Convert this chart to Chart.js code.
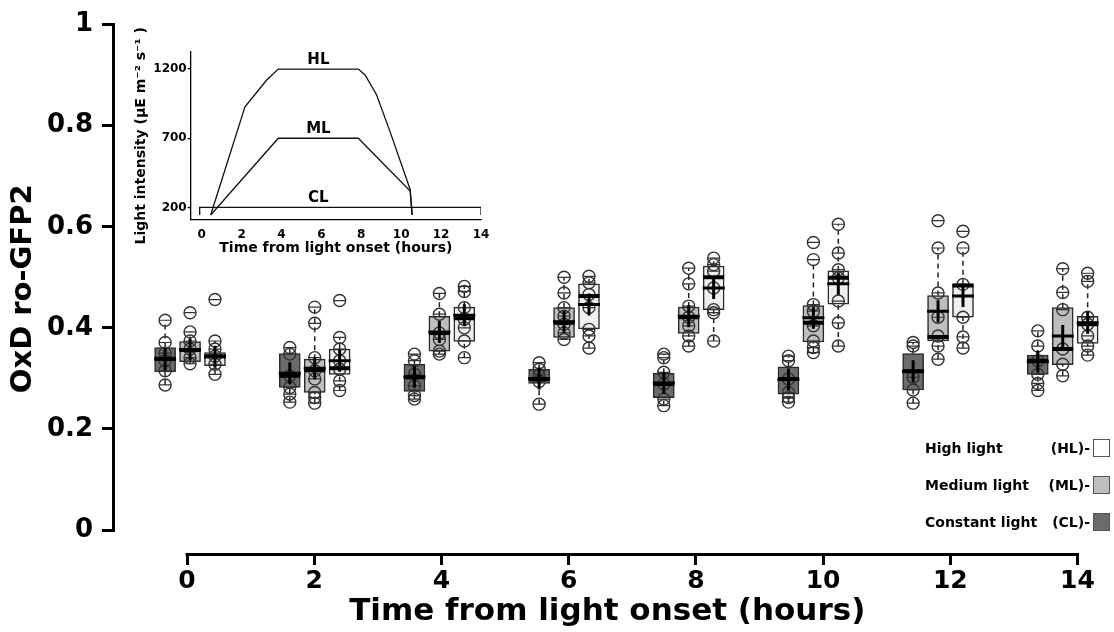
<!DOCTYPE html>
<html>
<head>
<meta charset="utf-8">
<script src="https://cdn.jsdelivr.net/npm/chart.js@4.4.1/dist/chart.umd.min.js"></script>
<style>
  body { margin: 0; background: #fff; }
  #wrap { position: relative; width: 1114px; height: 632px; overflow: hidden; }
  #mainChart { position: absolute; left: 0; top: 0; }
  #insetChart { position: absolute; left: 130px; top: 20px; }
  .lg { position: absolute; font: bold 14px "DejaVu Sans", sans-serif; color: #000; line-height: 18px; white-space: nowrap; }
  .sw { position: absolute; width: 17px; height: 18px; box-sizing: border-box; border: 1px solid #555; }
</style>
</head>
<body>
<div id="wrap">
  <canvas id="mainChart" width="1114" height="632"></canvas>
  <canvas id="insetChart" width="365" height="245"></canvas>
</div>
<script>
// main plot: OxD ro-GFP2 per time point (hours) and light treatment
const hours = [0, 2, 4, 6, 8, 10, 12, 14];
const yTicks = [0, 0.2, 0.4, 0.6, 0.8, 1];
const yTickLabels = ['0', '0.2', '0.4', '0.6', '0.8', '1'];

// constant light (CL)
const clQ1 = [0.313, 0.282, 0.274, 0.290, 0.262, 0.269, 0.277, 0.308];
const clQ3 = [0.361, 0.349, 0.328, 0.318, 0.310, 0.323, 0.349, 0.346];
const clMedian = [0.339, 0.305, 0.302, 0.299, 0.289, 0.299, 0.314, 0.335];
const clMean = [0.338, 0.310, 0.303, 0.300, 0.291, 0.298, 0.314, 0.333];
const clLow = [0.287, 0.253, 0.259, 0.249, 0.246, 0.253, 0.251, 0.276];
const clHigh = [0.415, 0.361, 0.348, 0.331, 0.348, 0.344, 0.371, 0.394];
const clPoints = [
  [0.415, 0.371, 0.350, 0.335, 0.315, 0.287],
  [0.361, 0.348, 0.305, 0.282, 0.269, 0.253],
  [0.348, 0.335, 0.308, 0.285, 0.266, 0.259],
  [0.331, 0.318, 0.305, 0.294, 0.249],
  [0.348, 0.341, 0.312, 0.289, 0.259, 0.246],
  [0.344, 0.335, 0.299, 0.272, 0.262, 0.253],
  [0.371, 0.364, 0.302, 0.277, 0.251],
  [0.394, 0.364, 0.335, 0.308, 0.290, 0.276]
];

// medium light (ML)
const mlQ1 = [0.333, 0.272, 0.354, 0.381, 0.389, 0.372, 0.374, 0.327];
const mlQ3 = [0.373, 0.338, 0.423, 0.440, 0.441, 0.444, 0.464, 0.440];
const mlMedian = [0.356, 0.316, 0.390, 0.410, 0.421, 0.410, 0.382, 0.358];
const mlMean = [0.357, 0.320, 0.392, 0.412, 0.423, 0.420, 0.433, 0.384];
const mlLow = [0.329, 0.251, 0.348, 0.377, 0.364, 0.351, 0.338, 0.305];
const mlHigh = [0.392, 0.441, 0.468, 0.500, 0.518, 0.535, 0.558, 0.517];
const mlPoints = [
  [0.430, 0.392, 0.374, 0.358, 0.341, 0.329],
  [0.441, 0.409, 0.341, 0.315, 0.299, 0.272, 0.262, 0.251],
  [0.468, 0.427, 0.390, 0.377, 0.354, 0.348],
  [0.500, 0.469, 0.440, 0.423, 0.407, 0.390, 0.377],
  [0.518, 0.487, 0.443, 0.421, 0.404, 0.384, 0.364],
  [0.569, 0.535, 0.446, 0.433, 0.404, 0.374, 0.361, 0.351],
  [0.612, 0.558, 0.469, 0.421, 0.384, 0.364, 0.338],
  [0.517, 0.470, 0.436, 0.358, 0.328, 0.305]
];

// high light (HL)
const hlQ1 = [0.325, 0.308, 0.373, 0.398, 0.436, 0.447, 0.421, 0.369];
const hlQ3 = [0.351, 0.358, 0.441, 0.487, 0.522, 0.513, 0.487, 0.423];
const hlMedian = [0.344, 0.320, 0.419, 0.463, 0.500, 0.499, 0.484, 0.407];
const hlMean = [0.343, 0.335, 0.425, 0.446, 0.479, 0.487, 0.463, 0.410];
const hlLow = [0.308, 0.276, 0.341, 0.360, 0.374, 0.364, 0.360, 0.346];
const hlHigh = [0.374, 0.381, 0.482, 0.502, 0.538, 0.605, 0.558, 0.508];
const hlPoints = [
  [0.456, 0.374, 0.358, 0.344, 0.328, 0.308],
  [0.454, 0.381, 0.358, 0.335, 0.318, 0.295, 0.276],
  [0.482, 0.472, 0.440, 0.417, 0.400, 0.374, 0.341],
  [0.502, 0.489, 0.466, 0.440, 0.397, 0.384, 0.360],
  [0.538, 0.525, 0.512, 0.479, 0.436, 0.430, 0.374],
  [0.605, 0.548, 0.515, 0.499, 0.453, 0.410, 0.364],
  [0.591, 0.558, 0.486, 0.421, 0.382, 0.360],
  [0.508, 0.492, 0.421, 0.407, 0.384, 0.364, 0.346]
];

// inset: light regime
const insetXTicks = [0, 2, 4, 6, 8, 10, 12, 14];
const insetYTicks = [200, 700, 1200];
const hlTime = [0.45, 2.17, 3.26, 3.84, 7.85, 8.19, 8.77, 9.44, 10.45, 10.55];
const hlLight = [145, 928, 1121, 1200, 1200, 1158, 1013, 748, 330, 145];
const mlTime = [0.45, 3.84, 7.85, 10.45, 10.55];
const mlLight = [145, 700, 700, 318, 145];
const clTime = [-0.1, -0.1, 14, 14];
const clLight = [145, 200, 200, 145];
const insetLabels = ['HL', 'ML', 'CL'];
const insetLabelLevels = [1200, 700, 200];
const insetLabelHour = 5.85;

// legend
const legendNames = ['High light', 'Medium light', 'Constant light'];
const legendTags = ['(HL)-', '(ML)-', '(CL)-'];

const bold = (size) => ({ family: 'DejaVu Sans', size: size, weight: 'bold' });

const groups = [
  { q1: clQ1, q3: clQ3, med: clMedian, mean: clMean, lo: clLow, hi: clHigh, pts: clPoints, fill: '#6b6b6b', off: -0.2 },
  { q1: mlQ1, q3: mlQ3, med: mlMedian, mean: mlMean, lo: mlLow, hi: mlHigh, pts: mlPoints, fill: '#bebebe', off: 0 },
  { q1: hlQ1, q3: hlQ3, med: hlMedian, mean: hlMean, lo: hlLow, hi: hlHigh, pts: hlPoints, fill: '#efefef', off: 0.2 }
];

const datasets = [];
groups.forEach(g => {
  const xs = hours.map((h, i) => i + g.off);
  datasets.push({
    type: 'bar', xAxisID: 'x', yAxisID: 'y', order: 6,
    data: xs.map((x, i) => ({ x: x, y: [g.q1[i], g.q3[i]] })),
    backgroundColor: g.fill, borderColor: '#2a2a2a', borderWidth: 1.5,
    borderSkipped: false, barThickness: 21, grouped: false
  });
  const wh = [];
  xs.forEach((x, i) => {
    wh.push({ x: x, y: g.lo[i] }, { x: x, y: g.q1[i] }, { x: x, y: null });
    wh.push({ x: x, y: g.q3[i] }, { x: x, y: g.hi[i] }, { x: x, y: null });
  });
  datasets.push({
    type: 'line', xAxisID: 'x', yAxisID: 'y', order: 5, data: wh,
    borderColor: '#222', borderWidth: 1.5, borderDash: [5, 4],
    pointRadius: 0, spanGaps: false, fill: false, tension: 0
  });
  const pts = [];
  xs.forEach((x, i) => g.pts[i].forEach(v => pts.push({ x: x, y: v })));
  datasets.push({
    type: 'scatter', xAxisID: 'x', yAxisID: 'y', order: 4, data: pts,
    pointStyle: 'circle', pointRadius: 6, pointBorderColor: '#333',
    pointBackgroundColor: 'rgba(0,0,0,0)', pointBorderWidth: 1.4
  });
  datasets.push({
    type: 'scatter', xAxisID: 'x', yAxisID: 'y', order: 3, data: pts,
    pointStyle: 'line', pointRadius: 6, pointBorderColor: '#333', pointBorderWidth: 1.2
  });
  datasets.push({
    type: 'scatter', xAxisID: 'x', yAxisID: 'y', order: 2,
    data: xs.map((x, i) => ({ x: x, y: g.med[i] })),
    pointStyle: 'line', pointRadius: 10.5, pointBorderColor: '#000', pointBorderWidth: 4
  });
  datasets.push({
    type: 'scatter', xAxisID: 'x', yAxisID: 'y', order: 1,
    data: xs.map((x, i) => ({ x: x, y: g.mean[i] })),
    pointStyle: 'cross', pointRadius: 11, pointBorderColor: '#000', pointBorderWidth: 3
  });
});

// axis lines only between first and last tick, like the original
const axisLines = {
  id: 'axisLines',
  afterDraw(chart) {
    const { ctx, chartArea, scales } = chart;
    const y = scales.y, x2 = scales.x2;
    ctx.save();
    ctx.strokeStyle = '#000';
    ctx.lineWidth = 3;
    ctx.beginPath();
    ctx.moveTo(chartArea.left - 1.5, y.getPixelForValue(yTicks[0]) + 1.5);
    ctx.lineTo(chartArea.left - 1.5, y.getPixelForValue(yTicks[yTicks.length - 1]) - 1.5);
    ctx.moveTo(x2.getPixelForValue(hours[0]) - 1.5, chartArea.bottom + 1.5);
    ctx.lineTo(x2.getPixelForValue(hours[hours.length - 1]) + 1.5, chartArea.bottom + 1.5);
    ctx.stroke();
    ctx.restore();
  }
};

new Chart(document.getElementById('mainChart'), {
  type: 'bar',
  data: { datasets: datasets },
  options: {
    responsive: false,
    animation: false,
    events: [],
    layout: { padding: { top: 24, right: 8, left: 0, bottom: 0 } },
    plugins: { legend: { display: false }, tooltip: { enabled: false } },
    scales: {
      x: { type: 'linear', display: false, offset: false, grid: { offset: false }, min: -0.602, max: 7.295 },
      x2: {
        type: 'linear', axis: 'x', position: 'bottom', offset: false, min: -1.133, max: 14.346,
        afterBuildTicks: s => { s.ticks = hours.map(v => ({ value: v })); },
        afterFit: s => { s.height = 79; },
        border: { display: false },
        grid: { offset: false, drawOnChartArea: false, drawTicks: true, tickLength: 12, color: '#000', lineWidth: 3 },
        ticks: { font: bold(25), color: '#000', padding: 1, maxRotation: 0, autoSkip: false },
        title: { display: true, text: 'Time from light onset (hours)', font: bold(31), color: '#000', padding: { top: 0, bottom: 1 } }
      },
      y: {
        min: -0.0455, max: 1,
        afterBuildTicks: s => { s.ticks = yTicks.map(v => ({ value: v })); },
        afterFit: s => { s.width = 115; },
        border: { display: false },
        grid: { drawOnChartArea: false, drawTicks: true, tickLength: 13, color: '#000', lineWidth: 3 },
        ticks: { font: bold(26), color: '#000', padding: 9, callback: (v, i) => yTickLabels[i] },
        title: { display: true, text: 'OxD ro-GFP2', font: bold(29), color: '#000', padding: { top: 6, bottom: 0 } }
      }
    }
  },
  plugins: [axisLines]
});

// inset labels HL / ML / CL above their lines
const insetText = {
  id: 'insetText',
  afterDatasetsDraw(chart) {
    const { ctx, scales } = chart;
    ctx.save();
    ctx.fillStyle = '#000';
    ctx.font = 'bold 15px "DejaVu Sans"';
    ctx.textAlign = 'center';
    ctx.textBaseline = 'bottom';
    insetLabels.forEach((t, i) => {
      ctx.fillText(t, scales.x.getPixelForValue(insetLabelHour), scales.y.getPixelForValue(insetLabelLevels[i]) - 2);
    });
    ctx.restore();
  }
};

const lineSet = (tArr, lArr) => ({
  data: tArr.map((t, i) => ({ x: t, y: lArr[i] })),
  borderColor: '#111', borderWidth: 1.3, pointRadius: 0, tension: 0, fill: false
});

new Chart(document.getElementById('insetChart'), {
  type: 'line',
  data: { datasets: [lineSet(hlTime, hlLight), lineSet(mlTime, mlLight), lineSet(clTime, clLight)] },
  options: {
    responsive: false,
    animation: false,
    events: [],
    layout: { padding: { top: 31.7, right: 14, left: 0, bottom: 0 } },
    plugins: { legend: { display: false }, tooltip: { enabled: false } },
    scales: {
      x: {
        type: 'linear', min: -0.55, max: 14,
        afterBuildTicks: s => { s.ticks = insetXTicks.map(v => ({ value: v })); },
        afterFit: s => { s.height = 45; },
        border: { display: true, color: '#000', width: 1.3 },
        grid: { display: false },
        ticks: { font: bold(12), color: '#000', padding: 0, maxRotation: 0, autoSkip: false, callback: v => String(v) },
        title: { display: true, text: 'Time from light onset (hours)', font: bold(14), color: '#000', padding: { top: 0, bottom: 8 } }
      },
      y: {
        type: 'linear', min: 109, max: 1326,
        afterBuildTicks: s => { s.ticks = insetYTicks.map(v => ({ value: v })); },
        afterFit: s => { s.width = 60.7; },
        border: { display: true, color: '#000', width: 1.3 },
        grid: { drawOnChartArea: false, drawTicks: true, tickLength: 3, color: '#000', lineWidth: 1.3 },
        ticks: { font: bold(12), color: '#000', padding: 1, callback: v => String(v) },
        title: { display: true, text: 'Light intensity (\u03bcE m\u207b\u00b2 s\u207b\u00b9 )', font: bold(14), color: '#000', padding: { top: 3, bottom: 0 } }
      }
    }
  },
  plugins: [insetText]
});

// legend in the lower right
const wrap = document.getElementById('wrap');
const swatches = groups.map(g => g.fill).reverse();
legendNames.forEach((name, i) => {
  const cy = 448 + i * 37;
  const a = document.createElement('div');
  a.className = 'lg';
  a.style.left = '925px';
  a.style.top = (cy - 9) + 'px';
  a.textContent = name;
  wrap.appendChild(a);
  const b = document.createElement('div');
  b.className = 'lg';
  b.style.right = (1114 - 1090) + 'px';
  b.style.top = (cy - 9) + 'px';
  b.textContent = legendTags[i];
  wrap.appendChild(b);
  const s = document.createElement('div');
  s.className = 'sw';
  s.style.left = '1093px';
  s.style.top = (cy - 9) + 'px';
  s.style.background = i === 0 ? '#ffffff' : swatches[i];
  wrap.appendChild(s);
});
</script>
</body>
</html>
